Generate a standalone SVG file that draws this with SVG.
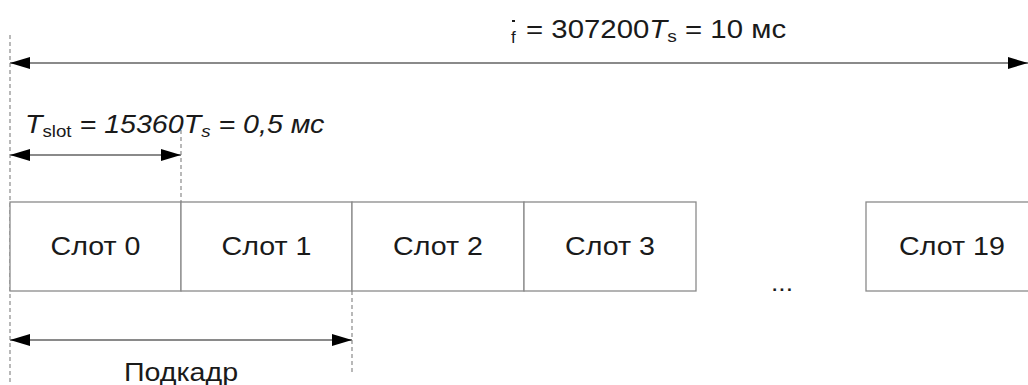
<svg xmlns="http://www.w3.org/2000/svg" width="1028" height="385" viewBox="0 0 1028 385">
<style>
.t{font-family:"Liberation Sans",Arial,sans-serif;fill:#1a1a1a;font-size:26px}
.slot{fill:#fff;stroke:#8a8a8a;stroke-width:1.3}
.dash{stroke:#8a8a8a;stroke-width:1.2;stroke-dasharray:4,3;fill:none}
.arr{stroke:#8a8a8a;stroke-width:2;fill:none;marker-start:url(#ah);marker-end:url(#ah)}
</style>
<defs>
<marker id="ah" viewBox="0 0 20 12" refX="20" refY="6" markerWidth="20" markerHeight="12" markerUnits="userSpaceOnUse" orient="auto-start-reverse">
<path d="M0,0 L20,6 L0,12 Z" fill="#000"/>
</marker>
</defs>
<rect width="1028" height="385" fill="#fff"/>
<g id="guides">
<line class="dash" x1="10" y1="35" x2="10" y2="385"/>
<line class="dash" x1="181" y1="130" x2="181" y2="202"/>
<line class="dash" x1="352" y1="291" x2="352" y2="375"/>
</g>
<g id="slot0"><rect class="slot" x="10" y="202" width="171" height="89"/><text class="t" transform="translate(95.5,255) scale(1.1,1)" text-anchor="middle">Слот 0</text></g>
<g id="slot1"><rect class="slot" x="181" y="202" width="171" height="89"/><text class="t" transform="translate(266.5,255) scale(1.1,1)" text-anchor="middle">Слот 1</text></g>
<g id="slot2"><rect class="slot" x="352" y="202" width="172" height="89"/><text class="t" transform="translate(438,255) scale(1.1,1)" text-anchor="middle">Слот 2</text></g>
<g id="slot3"><rect class="slot" x="524" y="202" width="172" height="89"/><text class="t" transform="translate(610,255) scale(1.1,1)" text-anchor="middle">Слот 3</text></g>
<g id="slot19"><rect class="slot" x="866" y="202" width="172" height="89"/><text class="t" transform="translate(952,255) scale(1.1,1)" text-anchor="middle">Слот 19</text></g>
<text class="t" transform="translate(782,291) scale(1.1,1)" style="font-size:24px" text-anchor="middle">...</text>
<g id="connectors">
<line class="arr" x1="10" y1="63" x2="1028" y2="63"/>
<line class="arr" x1="10" y1="155" x2="181" y2="155"/>
<line class="arr" x1="10" y1="340" x2="352" y2="340"/>
</g>
<g id="labels">
<line x1="512" y1="21" x2="515" y2="21" stroke="#1a1a1a" stroke-width="2"/>
<text class="t" x="511" y="43" style="font-size:17px">f</text>
<text class="t" transform="translate(526,38) scale(1.13,1)">= 307200<tspan font-style="italic">T</tspan><tspan font-size="17" dy="4">s</tspan><tspan dy="-4"> = 10 мс</tspan></text>
<text class="t" transform="translate(25,133) scale(1.1,1)" font-style="italic">T<tspan font-style="normal" font-size="17" dy="4">slot</tspan><tspan dy="-4"> = 15360</tspan>T<tspan font-size="17" dy="4">s</tspan><tspan dy="-4"> = 0,5 мс</tspan></text>
<text class="t" transform="translate(181,381) scale(1.1,1)" text-anchor="middle">Подкадр</text>
</g>
</svg>
